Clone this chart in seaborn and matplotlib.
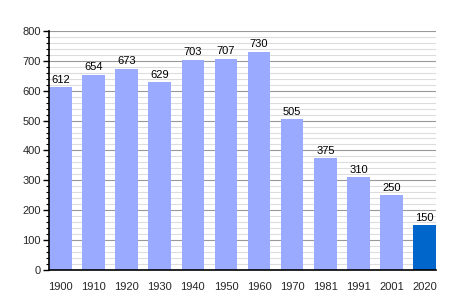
import matplotlib
matplotlib.use("Agg")
import matplotlib.pyplot as plt
import seaborn as sns
import pandas as pd
from matplotlib.ticker import MultipleLocator

years = ["1900", "1910", "1920", "1930", "1940", "1950", "1960", "1970", "1981", "1991", "2001", "2020"]
population = [612, 654, 673, 629, 703, 707, 730, 505, 375, 310, 250, 150]
colors = ["#99aaff"] * 11 + ["#0066cc"]

sns.set_theme(style="white")
plt.rcParams['font.family'] = ['Liberation Sans', 'DejaVu Sans']

df = pd.DataFrame({"year": years, "pop": population})
fig = plt.figure(figsize=(4.64, 3.0), dpi=100)
ax = fig.add_axes([0.1056, 0.1, 0.834, 0.797])

w = 0.68
sns.barplot(data=df, x="year", y="pop", hue="year", palette=colors, legend=False,
            width=w, ax=ax, saturation=1, zorder=3, linewidth=0, edgecolor="none")

ax.set_ylim(0, 800)
ax.set_xlim(-w / 2, len(years) - 1 + w / 2)
ax.yaxis.set_major_locator(MultipleLocator(100))
ax.yaxis.set_minor_locator(MultipleLocator(20))
ax.grid(which="major", axis="y", color="#999999", linewidth=0.8, zorder=0)
ax.grid(which="minor", axis="y", color="#dddddd", linewidth=0.8, zorder=0)
ax.set_axisbelow(True)

for s in ["top", "right"]:
    ax.spines[s].set_visible(False)
for s in ["left", "bottom"]:
    ax.spines[s].set_color("black")
    ax.spines[s].set_linewidth(1.2)
    ax.spines[s].set_zorder(5)

ax.tick_params(axis="y", which="major", left=True, length=4, width=1, color="black", labelsize=8, pad=2)
ax.tick_params(axis="y", which="minor", left=True, length=2, width=0.8, color="black")
ax.tick_params(axis="x", bottom=False, labelsize=8, pad=3)
ax.set_xlabel("")
ax.set_ylabel("")

for i, v in enumerate(population):
    ax.text(i, v + 8, str(v), ha="center", va="bottom", fontsize=8, color="black", zorder=4)

fig.savefig("out.png", dpi=100)
